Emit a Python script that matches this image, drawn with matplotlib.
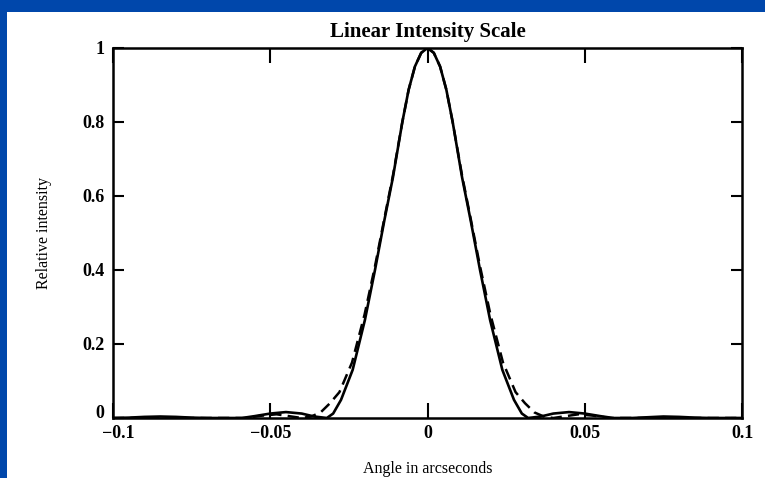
import matplotlib
matplotlib.use("Agg")
import matplotlib.pyplot as plt
from matplotlib.transforms import ScaledTranslation

# ---- data ----
x_solid = [-0.100, -0.095, -0.090, -0.085, -0.080, -0.075, -0.070, -0.065, -0.059,
           -0.055, -0.050, -0.045, -0.040, -0.036, -0.032, -0.030, -0.0275, -0.0238,
           -0.0199, -0.0167, -0.0137, -0.011, -0.008, -0.006, -0.004, -0.002, 0.0,
           0.002, 0.004, 0.006, 0.008, 0.011, 0.0137, 0.0167, 0.0199, 0.0238, 0.0275, 0.030,
           0.032, 0.036, 0.040, 0.045, 0.050, 0.055, 0.059, 0.065, 0.070, 0.075,
           0.080, 0.085, 0.090, 0.095, 0.100]
y_solid = [0.0, 0.001, 0.003, 0.004, 0.003, 0.001, 0.0, 0.0, 0.0,
           0.005, 0.012, 0.016, 0.012, 0.004, 0.0, 0.012, 0.049, 0.13,
           0.265, 0.40, 0.535, 0.65, 0.80, 0.887, 0.95, 0.987, 1.0,
           0.987, 0.95, 0.887, 0.80, 0.65, 0.535, 0.40, 0.265, 0.13, 0.049, 0.012,
           0.0, 0.004, 0.012, 0.016, 0.012, 0.005, 0.0, 0.0, 0.002, 0.004,
           0.003, 0.001, 0.0, 0.0, 0.0]

x_dash = [-0.100, -0.058, -0.053, -0.048, -0.044, -0.040, -0.037, -0.034, -0.031,
          -0.028, -0.024, -0.020, -0.0167, -0.0137, -0.011, -0.008, -0.006, -0.004,
          -0.002, 0.0, 0.002, 0.004, 0.006, 0.008, 0.011, 0.0137, 0.0167, 0.020,
          0.024, 0.028, 0.031, 0.034, 0.037, 0.040, 0.044, 0.048, 0.053, 0.058, 0.100]
y_dash = [0.0, 0.0, 0.006, 0.010, 0.005, 0.0, 0.004, 0.015, 0.04,
          0.07, 0.15, 0.28, 0.41, 0.54, 0.655, 0.80, 0.887, 0.95,
          0.987, 1.0, 0.987, 0.95, 0.887, 0.80, 0.655, 0.54, 0.41, 0.28,
          0.15, 0.07, 0.04, 0.015, 0.004, 0.0, 0.005, 0.010, 0.006, 0.0, 0.0]

x_ticks = [-0.1, -0.05, 0, 0.05, 0.1]
x_ticklabels = ["\u22120.1", "\u22120.05", "0", "0.05", "0.1"]
y_ticks = [0, 0.2, 0.4, 0.6, 0.8, 1]
y_ticklabels = ["0", "0.2", "0.4", "0.6", "0.8", "1"]

title = "Linear Intensity Scale"
xlabel = "Angle in arcseconds"
ylabel = "Relative intensity"

# ---- figure ----
plt.rcParams['font.family'] = ['Liberation Serif', 'DejaVu Serif']
fig = plt.figure(figsize=(7.65, 4.78), dpi=100)
fig.patch.set_facecolor("#0047AB")
# white page inside blue frame
bg = fig.add_axes([7/765, 0, 1 - 7/765, 1 - 12/478])
bg.set_facecolor("white")
bg.set_xticks([]); bg.set_yticks([])
for s in bg.spines.values():
    s.set_visible(False)
bg.set_zorder(0)

ax = fig.add_axes([113/765, 1 - 418/478, (742 - 113)/765, (418 - 48)/478])
ax.set_zorder(1)
ax.plot(x_solid, y_solid, color="black", lw=1.9, solid_joinstyle="round")
ax.plot(x_dash, y_dash, color="black", lw=1.8, dashes=(4.5, 2.5))

ax.set_xlim(-0.1, 0.1)
ax.set_ylim(0, 1)
ax.set_xticks(x_ticks)
ax.set_xticklabels(x_ticklabels, fontsize=13, fontweight="bold")
ax.set_yticks(y_ticks)
ax.set_yticklabels(y_ticklabels, fontsize=13, fontweight="bold")
ax.tick_params(axis="x", direction="in", length=11, width=1.5, top=True, pad=5)
ax.tick_params(axis="y", direction="in", length=8, width=1.5, right=True, pad=6)
for s in ax.spines.values():
    s.set_linewidth(1.8)

# lift the "0" y label slightly, as in the original, so it clears "-0.1"
zero_lbl = ax.get_yticklabels()[0]
zero_lbl.set_transform(zero_lbl.get_transform() + ScaledTranslation(0, 6/100, fig.dpi_scale_trans))
first_x = ax.get_xticklabels()[0]
first_x.set_transform(first_x.get_transform() + ScaledTranslation(5/100, 0, fig.dpi_scale_trans))

ax.set_title(title, fontsize=15, fontweight="bold", pad=8)
ax.set_xlabel(xlabel, fontsize=11.5, labelpad=14)
ax.set_ylabel(ylabel, fontsize=11.5, labelpad=22)

fig.savefig("out.png", dpi=100, facecolor=fig.get_facecolor())
